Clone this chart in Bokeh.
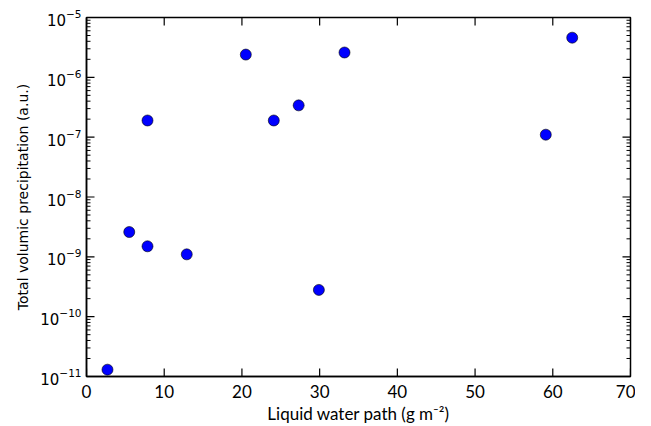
import math
from bokeh.plotting import figure
from bokeh.models import FixedTicker, Range1d, ColumnDataSource
from bokeh.embed import file_html
from bokeh.resources import INLINE

lwp = [2.7, 5.5, 7.85, 7.85, 12.9, 20.5, 24.1, 27.3, 29.9, 33.2, 59.1, 62.5]
precip = [1.3e-11, 2.6e-9, 1.9e-7, 1.5e-9, 1.1e-9, 2.4e-6, 1.9e-7, 3.4e-7, 2.8e-10, 2.6e-6, 1.1e-7, 4.6e-6]
x_ticks = [0, 10, 20, 30, 40, 50, 60, 70]
y_ticks = [1e-11, 1e-10, 1e-9, 1e-8, 1e-7, 1e-6, 1e-5]
y_minor = [m * 10.0 ** e for e in range(-11, -5) for m in range(2, 10)]

X0, X1 = 0, 70
Y0, Y1 = 1e-11, 1e-5

p = figure(width=635, height=426, output_backend="svg", toolbar_location=None,
           y_axis_type="log", x_range=Range1d(X0, X1), y_range=Range1d(Y0, Y1),
           min_border_left=86, min_border_right=5, min_border_top=17, min_border_bottom=45)
p.grid.visible = False
p.outline_line_color = "black"
p.outline_line_width = 1.5
p.background_fill_color = "white"
p.border_fill_color = "white"

# inward ticks drawn as short rays (screen-unit lengths) from the frame edges
tc = "black"
p.ray(x=x_ticks, y=[Y0] * len(x_ticks), length=8, length_units="screen", angle=math.pi / 2, line_color=tc, line_width=1.2)
p.ray(x=x_ticks, y=[Y1] * len(x_ticks), length=8, length_units="screen", angle=-math.pi / 2, line_color=tc, line_width=1.2)
p.ray(x=[X0] * len(y_ticks), y=y_ticks, length=8, length_units="screen", angle=0, line_color=tc, line_width=1.2)
p.ray(x=[X1] * len(y_ticks), y=y_ticks, length=8, length_units="screen", angle=math.pi, line_color=tc, line_width=1.2)
p.ray(x=[X0] * len(y_minor), y=y_minor, length=4, length_units="screen", angle=0, line_color=tc, line_width=1)
p.ray(x=[X1] * len(y_minor), y=y_minor, length=4, length_units="screen", angle=math.pi, line_color=tc, line_width=1)

src = ColumnDataSource(dict(x=lwp, y=precip))
p.scatter("x", "y", source=src, size=11, fill_color="#0000ff", line_color="black", line_width=0.6)

xa = p.xaxis[0]
xa.ticker = FixedTicker(ticks=x_ticks)
xa.axis_label = "Liquid water path (g m\u207b\u00b2)"
ya = p.yaxis[0]
ya.ticker = FixedTicker(ticks=y_ticks)
ya.axis_label = "Total volumic precipitation (a.u.)"

for ax in (xa, ya):
    ax.major_tick_in = 0
    ax.major_tick_out = 0
    ax.minor_tick_in = 0
    ax.minor_tick_out = 0
    ax.axis_line_color = "black"
    ax.axis_line_width = 1.5
    ax.major_label_text_color = "black"
    ax.axis_label_text_font_style = "normal"
    ax.axis_label_text_color = "black"
    ax.axis_label_standoff = 0

xa.major_label_text_font = "Lato"
xa.major_label_text_font_size = "17px"
xa.axis_label_text_font = "Lato"
xa.axis_label_text_font_size = "17px"
xa.major_label_standoff = 8
xa.axis_label_standoff = 2

ya.major_label_text_font = "DejaVu Sans"
ya.major_label_text_font_size = "15px"
ya.axis_label_text_font = "DejaVu Sans"
ya.axis_label_text_font_size = "14px"
ya.major_label_standoff = 5
ya.axis_label_standoff = 6

open("out.html", "w").write(file_html(p, INLINE))
